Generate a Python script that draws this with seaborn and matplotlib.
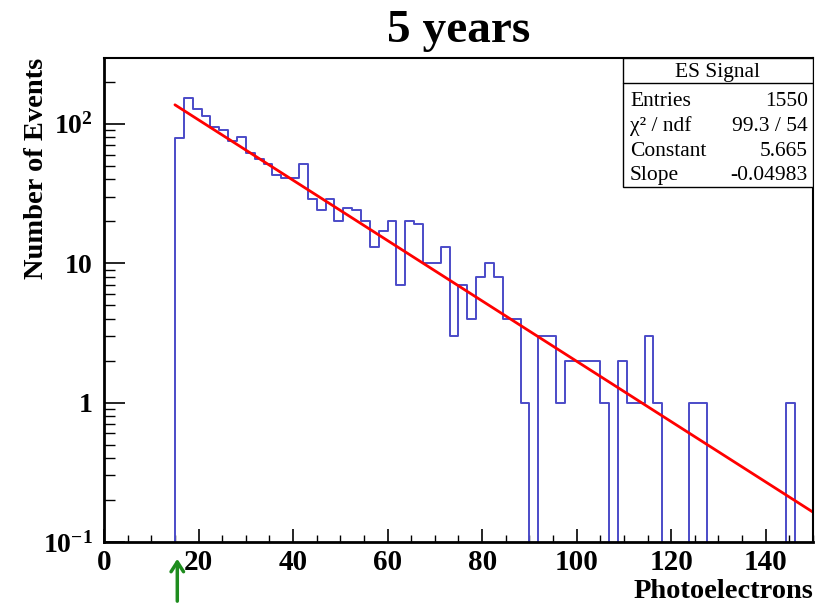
import numpy as np
import matplotlib
matplotlib.use("Agg")
import matplotlib.pyplot as plt
import matplotlib.ticker as mticker
import seaborn as sns

# histogram: 80 bins over 0-150 photoelectrons, counts
n_bins = 80
x_range = (0, 150)
counts = [0] * 8 + [
    79, 153, 128, 114, 95, 90, 75, 80, 62, 56,      # bins 8-17
    51, 43, 41, 41, 51, 29, 24, 29, 20, 25,         # bins 18-27
    24, 20, 13, 17, 20, 7, 20, 19, 10, 10,          # bins 28-37
    13, 3, 7, 4, 8, 10, 8, 4, 4, 1,                 # bins 38-47
    0, 3, 3, 1, 2, 2, 2, 2, 1, 0,                   # bins 48-57
    2, 1, 1, 3, 1, 0, 0, 0, 1, 1,                   # bins 58-67
    0, 0, 0, 0, 0, 0, 0, 0, 0, 1,                   # bins 68-77
    0, 0,                                           # bins 78-79
]

# exponential fit shown in the stats box
fit_const = 5.665
fit_slope = -0.04983
fit_x = [15.0, 150.0]
threshold = 15.5

stats_rows = [("Entries", "1550"), ("\u03c7\u00b2 / ndf", "99.3 / 54"),
              ("Constant", "5.665"), ("Slope", "-0.04983")]

sns.set_style("white")
plt.rcParams["font.family"] = ["Liberation Serif", "DejaVu Serif"]
plt.rcParams["mathtext.fontset"] = "custom"
plt.rcParams["mathtext.rm"] = "Liberation Serif"
plt.rcParams["mathtext.bf"] = "Liberation Serif:bold"
for key in ["text.color", "axes.labelcolor", "xtick.color", "ytick.color",
            "axes.edgecolor"]:
    plt.rcParams[key] = "black"

edges = np.linspace(x_range[0], x_range[1], n_bins + 1)
centers = 0.5 * (edges[:-1] + edges[1:])

fig = plt.figure(figsize=(8.35, 6.03), dpi=100)
ax = fig.add_axes([0.1246, 0.1012, 0.849, 0.8026])

sns.histplot(x=centers, weights=np.array(counts, dtype=float), bins=n_bins,
             binrange=x_range, element="step", fill=False,
             color="#4b4bc8", linewidth=1.4, ax=ax)

fit_y = [np.exp(fit_const + fit_slope * v) for v in fit_x]
sns.lineplot(x=fit_x, y=fit_y, color="#ff0000", linewidth=2.0, ax=ax)

ax.set_yscale("log")
ax.set_xlim(*x_range)
ax.set_ylim(0.1, 296)

# ROOT-like ticks
ax.xaxis.set_major_locator(mticker.MultipleLocator(20))
ax.xaxis.set_minor_locator(mticker.MultipleLocator(5))
ax.yaxis.set_major_locator(mticker.LogLocator(base=10))
ax.yaxis.set_minor_locator(mticker.LogLocator(base=10, subs=np.arange(2, 10)))
ax.yaxis.set_minor_formatter(mticker.NullFormatter())

def ylab(v, pos):
    if abs(v - 1) < 1e-9:
        return r"$\mathbf{1}$"
    if abs(v - 10) < 1e-9:
        return r"$\mathbf{10}$"
    e = int(round(np.log10(v)))
    return r"$\mathbf{10^{%d}}$" % e

ax.yaxis.set_major_formatter(mticker.FuncFormatter(ylab))
ax.tick_params(axis="both", which="both", bottom=True, left=True, top=False,
               right=False, color="black", labelcolor="black")
ax.tick_params(axis="x", which="major", direction="in", length=9.5, width=1.2,
               labelsize=21, pad=5)
ax.tick_params(axis="x", which="minor", direction="in", length=5, width=1.0)
ax.tick_params(axis="y", which="major", direction="in", length=15, width=1.2,
               labelsize=20, pad=8)
ax.tick_params(axis="y", which="minor", direction="in", length=8, width=1.0)
for lab in ax.get_xticklabels():
    lab.set_fontweight("bold")

for sp in ax.spines.values():
    sp.set_linewidth(1.5)
    sp.set_color("black")
ax.spines["left"].set_linewidth(2.0)
ax.spines["bottom"].set_linewidth(2.0)

ax.set_xlabel("Photoelectrons", fontsize=20.5, fontweight="bold", loc="right")
ax.xaxis.set_label_coords(1.0, -0.077)
ax.xaxis.label.set_va("top")
ax.set_ylabel("Number of Events", fontsize=20.5, fontweight="bold", loc="top")
ax.yaxis.set_label_coords(-0.077, 1.0)

fig.text(0.549, 0.930, "5 years", fontsize=34, fontweight="bold",
         ha="center", va="baseline")

# stats box
bx0, bx1, by0, by1, bmid = 0.7315, 1.0, 0.734, 1.0, 0.9477
ax.add_patch(plt.Rectangle((bx0, by0), bx1 - bx0, by1 - by0, transform=ax.transAxes,
                           facecolor="white", edgecolor="black", linewidth=1.0, zorder=5))
ax.plot([bx0, bx1], [bmid, bmid], transform=ax.transAxes, color="black",
        linewidth=1.0, zorder=6)
ax.text((bx0 + bx1) / 2, 0.970, "ES Signal", transform=ax.transAxes, fontsize=15.5,
        ha="center", va="center", zorder=7)
row_y = [0.910, 0.859, 0.807, 0.757]
for (name, val), yy in zip(stats_rows, row_y):
    ax.text(0.742, yy, name, transform=ax.transAxes, fontsize=15.5, ha="left",
            va="center", zorder=7)
    ax.text(0.993, yy, val, transform=ax.transAxes, fontsize=15.5, ha="right",
            va="center", zorder=7)

# threshold arrow below the axis
ax.annotate("", xy=(threshold, -0.029), xytext=(threshold, -0.128),
            xycoords=("data", "axes fraction"), textcoords=("data", "axes fraction"),
            arrowprops=dict(arrowstyle="->,head_length=0.7,head_width=0.45",
                            color="#1e8c1e", linewidth=2.5),
            annotation_clip=False)

fig.savefig("out.png", dpi=100)
